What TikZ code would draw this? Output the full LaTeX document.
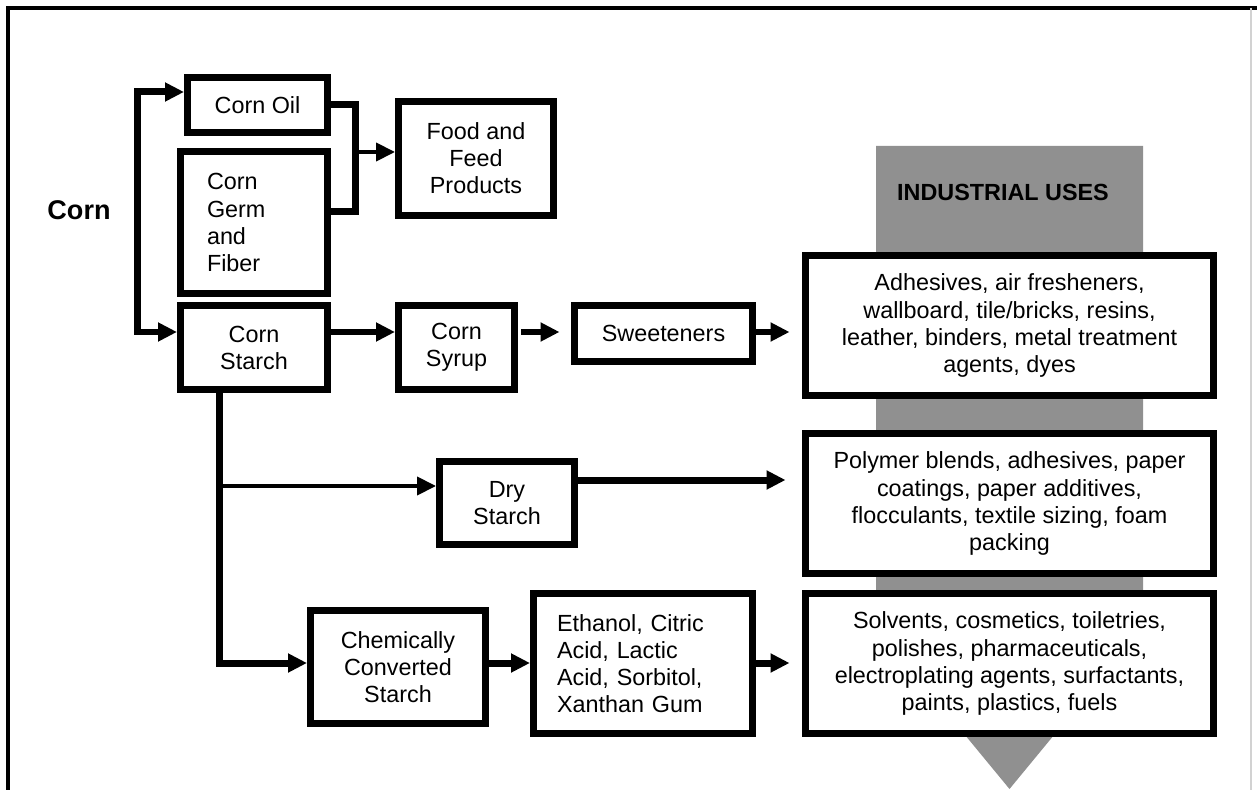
\documentclass[tikz,border=0pt]{standalone}
\usepackage{fontspec}
\setmainfont{Liberation Sans}
\usetikzlibrary{arrows.meta}
\definecolor{usegray}{RGB}{144,144,144}
\newcommand{\boxfont}{\fontsize{13.3pt}{15.4pt}\selectfont}

\begin{document}
\begin{tikzpicture}[x=0.02cm,y=-0.02cm,
    >={Triangle[length=0.38cm,width=0.36cm]},
    box/.style={draw,line width=0.14cm,fill=white,inner sep=0pt,align=center,font=\boxfont},
    usebox/.style={box,minimum width=8.16cm,minimum height=2.8cm},
    conn/.style={line width=0.14cm},
    thinconn/.style={line width=0.08cm}]
    \useasboundingbox (0,0) rectangle (1257,790);
    % frame
    \draw[line width=0.08cm] (8,790) -- (8,8) -- (1257,8);
    \draw[gray!35,line width=0.03cm] (1251,8) -- (1251,790);
    % grey arrow behind the uses
    \fill[usegray] (876,146) -- (1143,146) -- (1143,627) -- (1009.5,789) -- (876,627) -- cycle;
    \node[font=\boxfont\bfseries] (uses) at (1003,192) {INDUSTRIAL USES};

    \node[font=\fontsize{15.4pt}{18pt}\selectfont\bfseries] (corn) at (79,210) {Corn};
    \node[box,minimum width=2.8cm,minimum height=1.1cm] (oil) at (257.5,105) {Corn Oil};
    \node[box,minimum width=2.94cm,minimum height=2.84cm,align=left,text width=1.88cm] (germ) at (254,222.5) {Corn\\Germ\\and\\Fiber};
    \node[box,minimum width=2.94cm,minimum height=1.68cm] (starch) at (254,347.5) {Corn\\Starch};
    \node[box,minimum width=3.1cm,minimum height=2.28cm] (food) at (476,158.5) {Food and\\Feed\\Products};
    \node[box,minimum width=2.32cm,minimum height=1.68cm] (syrup) at (456.5,347.5) {Corn\\Syrup};
    \node[box,minimum width=3.56cm,minimum height=1.12cm] (sweet) at (663.5,333.5) {Sweeteners};
    \node[box,minimum width=2.7cm,minimum height=1.66cm] (dry) at (507,503) {Dry\\Starch};
    \node[box,minimum width=3.5cm,minimum height=2.26cm] (chem) at (398,667) {Chemically\\Converted\\Starch};
    \node[box,minimum width=4.38cm,minimum height=2.8cm,align=left,text width=3.44cm] (eth) at (643,663.5) {Ethanol, Citric\\Acid, Lactic\\Acid, Sorbitol,\\Xanthan Gum};
    \node[usebox] (ind1) at (1009.5,325.5) {Adhesives, air fresheners,\\wallboard, tile/bricks, resins,\\leather, binders, metal treatment\\agents, dyes};
    \node[usebox] (ind2) at (1009.5,503.5) {Polymer blends, adhesives, paper\\coatings, paper additives,\\flocculants, textile sizing, foam\\packing};
    \node[usebox] (ind3) at (1009.5,663.5) {Solvents, cosmetics, toiletries,\\polishes, pharmaceuticals,\\electroplating agents, surfactants,\\paints, plastics, fuels};

    % corn splits
    \coordinate (forktop) at (137.5,92);
    \coordinate (forkbot) at (137.5,332);
    \draw[conn,<->] (oil.west |- forktop) -- (forktop) -- (forkbot) -- (starch.west |- forkbot);
    \coordinate (joint) at (355,152);
    \draw[conn] (oil.east) -| (joint) |- (germ.east |- 0,212);
    \draw[thinconn,->] (joint) -- (food.west |- joint);

    % sweetener line
    \draw[conn,->] (starch.east |- forkbot) -- (syrup.west |- forkbot);
    \draw[conn,->,shorten <=0.07cm,shorten >=0.23cm] (syrup.east |- forkbot) -- (sweet.west |- forkbot);
    \draw[conn,->,shorten >=0.25cm] (sweet.east |- forkbot) -- (ind1.west |- forkbot);

    % starch branches
    \coordinate (branch) at (219,486);
    \coordinate (drop) at (219,663);
    \draw[conn,->] (starch.south -| drop) -- (drop) -- (chem.west |- drop);
    \draw[thinconn,->] (branch) -- (dry.west |- branch);
    \draw[conn,->,shorten >=0.33cm] (dry.east |- 0,480) -- (ind2.west |- 0,480);
    \draw[conn,->] (chem.east |- drop) -- (eth.west |- drop);
    \draw[conn,->,shorten >=0.25cm] (eth.east |- drop) -- (ind3.west |- drop);
\end{tikzpicture}
\end{document}
